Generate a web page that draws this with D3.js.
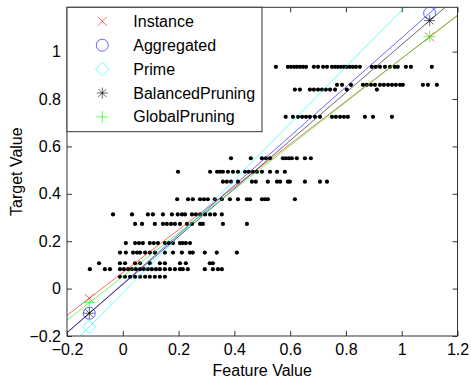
<!DOCTYPE html>
<html lang="en">
<head>
    <meta charset="UTF-8">
    <script src="https://cdn.jsdelivr.net/npm/d3@7"></script>
    <title>Target vs Feature</title>
    <style>
        html,
        body {
            margin: 0px;
            padding: 0px;
            background-color: #ffffff;
            font-family: "Liberation Sans", Arial, sans-serif;
        }
    </style>
</head>
<body>
    <div id="chart"></div>
    <script>

        // series shown in the legend
        let seriesNames = ['Instance', 'Aggregated', 'Prime', 'BalancedPruning', 'GlobalPruning'];
        let seriesColors = ['#ff0000', '#0000ff', '#00ffff', '#000000', '#00ff00'];
        let seriesMarkers = ['x', 'o', 'd', '*', '+'];

        // fitted lines, value at x = -0.2 and x = 1.2
        let lineX = [-0.2, 1.2];
        let lineStart = [-0.113, -0.187, -0.256, -0.185, -0.133];
        let lineEnd = [1.152, 1.266, 1.412, 1.232, 1.155];

        // markers on each line
        let markerX = [-0.12, 1.1];
        let markerLow = [-0.041, -0.104, -0.161, -0.104, -0.059];
        let markerHigh = [1.062, 1.162, 1.293, 1.131, 1.063];

        // scatter points, one row per target level
        let rowY = [0.936, 0.86, 0.84, 0.725, 0.55, 0.493, 0.451, 0.377, 0.313, 0.273, 0.192, 0.152, 0.107, 0.082, 0.05];
        let rowX = [
            [0.549, 0.592, 0.603, 0.614, 0.624, 0.635, 0.646, 0.657, 0.685, 0.700, 0.718, 0.732, 0.750, 0.761, 0.771, 0.782, 0.793, 0.803, 0.814, 0.825, 0.836, 0.850, 0.893, 0.907, 0.922, 0.940, 0.958, 0.975, 0.986, 1.015, 1.033, 1.108],
            [0.768, 0.786, 0.818, 0.861, 0.875, 0.890, 0.904, 0.922, 0.936, 0.951, 0.965, 0.979, 0.994, 1.004, 1.076, 1.094, 1.126],
            [0.617, 0.635, 0.671, 0.685, 0.700, 0.714, 0.728, 0.743, 0.761, 0.803, 0.911],
            [0.584, 0.610, 0.628, 0.643, 0.657, 0.671, 0.689, 0.707, 0.750, 0.764, 0.779, 0.793, 0.807, 0.868, 0.897, 0.965],
            [0.388, 0.459, 0.499, 0.513, 0.528, 0.574, 0.585, 0.596, 0.606, 0.624, 0.653, 0.674],
            [0.198, 0.313, 0.338, 0.349, 0.359, 0.377, 0.395, 0.413, 0.438, 0.452, 0.467, 0.481, 0.499, 0.528, 0.553, 0.581],
            [0.359, 0.373, 0.388, 0.413, 0.463, 0.477, 0.520, 0.553, 0.564, 0.592, 0.599, 0.653, 0.707, 0.732],
            [0.195, 0.234, 0.251, 0.277, 0.291, 0.305, 0.330, 0.355, 0.384, 0.413, 0.445, 0.456, 0.499, 0.510, 0.520, 0.617],
            [-0.035, 0.033, 0.090, 0.108, 0.144, 0.176, 0.197, 0.212, 0.223, 0.248, 0.262, 0.277, 0.295, 0.313, 0.330, 0.355],
            [0.044, 0.069, 0.115, 0.144, 0.158, 0.173, 0.187, 0.205, 0.230, 0.248, 0.277, 0.287, 0.359, 0.445],
            [0.011, 0.044, 0.058, 0.072, 0.097, 0.111, 0.126, 0.151, 0.165, 0.180, 0.205, 0.215, 0.226, 0.241],
            [-0.010, 0.011, 0.037, 0.051, 0.062, 0.080, 0.097, 0.115, 0.151, 0.180, 0.212, 0.241, 0.251, 0.294, 0.337, 0.409],
            [-0.085, -0.010, 0.008, 0.044, 0.062, 0.097, 0.133, 0.151, 0.205, 0.226, 0.312, 0.323],
            [-0.118, -0.064, -0.046, -0.010, 0.004, 0.019, 0.033, 0.047, 0.062, 0.076, 0.090, 0.104, 0.119, 0.133, 0.151, 0.169, 0.187, 0.205, 0.215, 0.233, 0.294, 0.323, 0.341, 0.355],
            [-0.010, 0.008, 0.026, 0.044, 0.062, 0.080, 0.097, 0.115, 0.133, 0.151]
        ];

        let xTicks = [-0.2, 0, 0.2, 0.4, 0.6, 0.8, 1, 1.2];
        let yTicks = [-0.2, 0, 0.2, 0.4, 0.6, 0.8, 1];

        let width = 471;
        let height = 385;
        let plotLeft = 67, plotRight = 457.5, plotTop = 7.3, plotBottom = 336;

        let svg = d3.select('#chart').append('svg').attr('width', width).attr('height', height);

        let x = d3.scaleLinear().domain([-0.2, 1.2]).range([plotLeft, plotRight]);
        let y = d3.scaleLinear().domain([-0.2, 1.187]).range([plotBottom, plotTop]);

        svg.append('clipPath').attr('id', 'plot-clip')
            .append('rect')
            .attr('x', plotLeft).attr('y', plotTop)
            .attr('width', plotRight - plotLeft).attr('height', plotBottom - plotTop);

        function markerPath(type) {
            if (type === 'x') return 'M-4.5,-4.5L4.5,4.5M-4.5,4.5L4.5,-4.5';
            if (type === '+') return 'M-6,0H6M0,-6V6';
            if (type === 'o') return 'M6,0A6,6 0 1,1 -6,0A6,6 0 1,1 6,0Z';
            if (type === 'd') return 'M0,-6.8L6.8,0L0,6.8L-6.8,0Z';
            return 'M-5.5,0H5.5M0,-5.5V5.5M-3.9,-3.9L3.9,3.9M-3.9,3.9L3.9,-3.9';
        }

        let plot = svg.append('g').attr('clip-path', 'url(#plot-clip)');

        // scatter dots
        let points = [];
        rowY.forEach((v, i) => rowX[i].forEach(u => points.push([u, v])));
        plot.selectAll('circle.pt')
            .data(points)
            .join('circle')
            .attr('class', 'pt')
            .attr('cx', d => x(d[0]))
            .attr('cy', d => y(d[1]))
            .attr('r', 2.1)
            .attr('fill', '#000');

        // fitted lines and their markers
        seriesNames.forEach((name, i) => {
            plot.append('line')
                .attr('x1', x(lineX[0])).attr('y1', y(lineStart[i]))
                .attr('x2', x(lineX[1])).attr('y2', y(lineEnd[i]))
                .attr('stroke', seriesColors[i])
                .attr('stroke-width', 0.6);
            [markerLow[i], markerHigh[i]].forEach((v, j) => {
                if (v > 1.187) return;
                plot.append('path')
                    .attr('d', markerPath(seriesMarkers[i]))
                    .attr('transform', `translate(${x(markerX[j])},${y(v)})`)
                    .attr('fill', 'none')
                    .attr('stroke', seriesColors[i])
                    .attr('stroke-width', 0.6);
            });
        });

        // axes box with inward ticks on all sides
        let axisColor = '#333';
        let xAxis = d3.axisBottom(x).tickValues(xTicks).tickSize(-5).tickPadding(8).tickFormat(d3.format('~g'));
        let yAxis = d3.axisLeft(y).tickValues(yTicks).tickSize(-5).tickPadding(6).tickFormat(d3.format('~g'));

        svg.append('g').attr('transform', `translate(0,${plotBottom})`).call(xAxis);
        svg.append('g').attr('transform', `translate(${plotLeft},0)`).call(yAxis);
        svg.append('g').attr('transform', `translate(0,${plotTop})`)
            .call(d3.axisTop(x).tickValues(xTicks).tickSize(-5).tickFormat(''));
        svg.append('g').attr('transform', `translate(${plotRight},0)`)
            .call(d3.axisRight(y).tickValues(yTicks).tickSize(-5).tickFormat(''));

        svg.selectAll('.domain').remove();
        svg.selectAll('.tick line').attr('stroke', axisColor);
        svg.selectAll('.tick text')
            .attr('fill', '#000')
            .style('font-size', '16px')
            .style('font-family', '"Liberation Sans", Arial, sans-serif');

        svg.append('rect')
            .attr('x', plotLeft).attr('y', plotTop)
            .attr('width', plotRight - plotLeft).attr('height', plotBottom - plotTop)
            .attr('fill', 'none')
            .attr('stroke', axisColor)
            .attr('stroke-width', 1);

        svg.append('text')
            .attr('x', (plotLeft + plotRight) / 2).attr('y', 376)
            .attr('text-anchor', 'middle')
            .style('font-size', '16px')
            .text('Feature Value');

        svg.append('text')
            .attr('transform', `translate(22,${(plotTop + plotBottom) / 2}) rotate(-90)`)
            .attr('text-anchor', 'middle')
            .style('font-size', '16px')
            .text('Target Value');

        // legend
        let legend = svg.append('g');
        legend.append('rect')
            .attr('x', plotLeft).attr('y', plotTop)
            .attr('width', 195).attr('height', 124.4)
            .attr('fill', '#fff')
            .attr('stroke', axisColor)
            .attr('stroke-width', 1);

        seriesNames.forEach((name, i) => {
            let cy = 21.3 + i * 23.9;
            legend.append('path')
                .attr('d', markerPath(seriesMarkers[i]))
                .attr('transform', `translate(102.3,${cy})`)
                .attr('fill', 'none')
                .attr('stroke', seriesColors[i])
                .attr('stroke-width', 0.6);
            legend.append('text')
                .attr('x', 133.3).attr('y', cy + 5.5)
                .style('font-size', '16px')
                .text(name);
        });

    </script>
</body>
</html>
